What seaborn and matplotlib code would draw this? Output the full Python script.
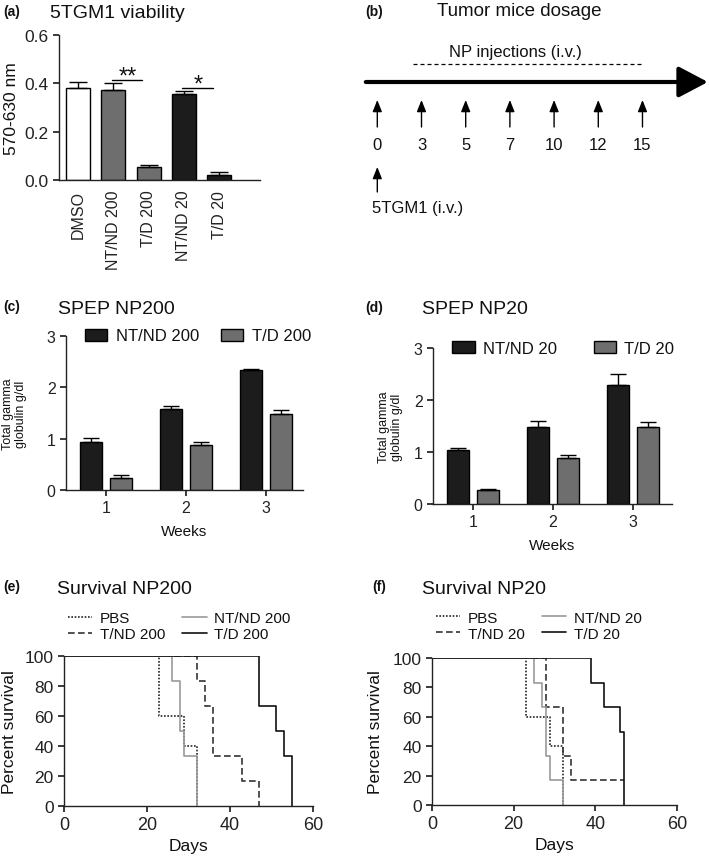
import numpy as np
import pandas as pd
import matplotlib
matplotlib.use("Agg")
import matplotlib.pyplot as plt
import seaborn as sns

# (a) 5TGM1 viability
via_labels = ["DMSO", "NT/ND 200", "T/D 200", "NT/ND 20", "T/D 20"]
via_mean = [0.379, 0.373, 0.052, 0.354, 0.022]
via_err = [0.025, 0.027, 0.009, 0.013, 0.011]
via_colors = ["white", "#6e6e6e", "#6e6e6e", "#1c1c1c", "#1c1c1c"]
via_sig = [(1, 2, "**", 0.414), (3, 4, "*", 0.38)]

# (b) dosing schedule (days)
dose_days = [0, 3, 5, 7, 10, 12, 15]

# (c), (d) SPEP, total gamma globulin g/dl
weeks = ["1", "2", "3"]
spep200_ntnd = [0.94, 1.57, 2.33]
spep200_ntnd_err = [0.07, 0.07, 0.03]
spep200_td = [0.24, 0.88, 1.48]
spep200_td_err = [0.06, 0.06, 0.08]
spep20_ntnd = [1.04, 1.49, 2.29]
spep20_ntnd_err = [0.03, 0.10, 0.21]
spep20_td = [0.26, 0.88, 1.49]
spep20_td_err = [0.03, 0.07, 0.08]

# (e), (f) survival steps
pbs200_day = [0, 23, 29, 32]
pbs200_pct = [100, 60, 40, 0]
ntnd200_day = [0, 26, 28, 29, 32]
ntnd200_pct = [100, 83.3, 50, 33.3, 0]
tnd200_day = [0, 32, 34, 36, 43, 47]
tnd200_pct = [100, 83.3, 66.7, 33.3, 16.7, 0]
td200_day = [0, 47, 51, 53, 55]
td200_pct = [100, 66.7, 50, 33.3, 0]

pbs20_day = [0, 23, 29, 32]
pbs20_pct = [100, 60, 40, 0]
ntnd20_day = [0, 25, 27, 28, 29, 32]
ntnd20_pct = [100, 83.3, 66.7, 33.3, 16.7, 0]
tnd20_day = [0, 28, 32, 34, 47]
tnd20_pct = [100, 66.7, 33.3, 16.7, 16.7]
td20_day = [0, 39, 42, 46, 47]
td20_pct = [100, 83.3, 66.7, 50, 0]

W, H = 709, 862
BLACK = "#1c1c1c"
GRAY = "#6e6e6e"

sns.set_theme(style="ticks")
plt.rcParams["font.family"] = ["Liberation Sans", "DejaVu Sans"]
plt.rcParams["axes.linewidth"] = 1.0
plt.rcParams["axes.edgecolor"] = "#222222"
plt.rcParams["xtick.color"] = "#222222"
plt.rcParams["ytick.color"] = "#222222"
plt.rcParams["text.color"] = "#111111"
plt.rcParams["axes.labelcolor"] = "#111111"

fig = plt.figure(figsize=(W / 100, H / 100), dpi=100)


def box(l, t, r, b):
    return [l / W, 1 - b / H, (r - l) / W, (b - t) / H]


def ftext(x, y, s, **kw):
    fig.text(x / W, 1 - y / H, s, va="center", ha="left", **kw)


def add_err(ax, bars, errs, capsize):
    xs = [p.get_x() + p.get_width() / 2 for p in bars]
    ys = [p.get_height() for p in bars]
    ax.errorbar(xs, ys, yerr=[np.zeros(len(errs)), errs], fmt="none",
                ecolor="black", elinewidth=1, capsize=capsize, capthick=1)


# ---------- (a)
ax = fig.add_axes(box(59, 36, 260, 181))
sns.barplot(x=via_labels, y=via_mean, hue=via_labels, palette=via_colors,
            legend=False, saturation=1, width=0.68, edgecolor="black",
            linewidth=1, errorbar=None, ax=ax)
add_err(ax, ax.patches, via_err, 6.5)
for i, j, star, y in via_sig:
    ax.plot([i - 0.04, j - 0.18], [y, y], color="black", lw=1)
    ax.text((i + j) / 2 - 0.1, y + 0.014, star, ha="center", va="center",
            fontsize=17)
ax.set_ylim(0, 0.6)
ax.set_xlim(-0.54, 5.16)
ax.set_yticks([0, 0.2, 0.4, 0.6])
ax.set_yticklabels(["0.0", "0.2", "0.4", "0.6"])
ax.tick_params(axis="y", labelsize=12.5, length=4)
ax.tick_params(axis="x", labelsize=11.5, length=0, pad=7, rotation=90)
ax.set_ylabel("570-630 nm", fontsize=12.5)
ax.yaxis.set_label_coords(-0.2, 0.5)
sns.despine(ax=ax)
ftext(3, 12, "(a)", fontsize=10, fontweight="bold")
ftext(50, 13, "5TGM1 viability", fontsize=14)

# ---------- (b)
ax = fig.add_axes(box(340, 0, 709, 240))
ax.set_xlim(-0.844, 7.505)
ax.set_ylim(240, 0)
ax.axis("off")
ax.annotate("", xy=(7.48, 83), xytext=(-0.26, 83),
            arrowprops=dict(arrowstyle="-|>,head_length=1.8,head_width=0.95",
                            lw=3, color="black", shrinkA=0, shrinkB=0,
                            mutation_scale=10))
ax.plot([0.8, len(dose_days) - 1], [65, 65], color="black", lw=0.9,
        ls=(0, (3.2, 2.4)))
ax.text(3.12, 53, "NP injections (i.v.)", ha="center", va="center", fontsize=12)
small = dict(arrowstyle="-|>,head_length=0.7,head_width=0.28", lw=1,
             color="black", shrinkA=0, shrinkB=0, mutation_scale=10)
for i, d in enumerate(dose_days):
    ax.annotate("", xy=(i, 101), xytext=(i, 128), arrowprops=small)
    ax.text(i, 145, str(d), ha="center", va="center", fontsize=12)
ax.annotate("", xy=(0, 168), xytext=(0, 193), arrowprops=small)
ax.text(-0.12, 208, "5TGM1 (i.v.)", ha="left", va="center", fontsize=12)
ftext(365, 12, "(b)", fontsize=10, fontweight="bold")
ftext(437, 12, "Tumor mice dosage", fontsize=13.5)


# ---------- (c), (d)
def spep(rect, ntnd, ntnd_err, td, td_err, dose, xmax, leg_x, colsp):
    ax = fig.add_axes(rect)
    names = [f"NT/ND {dose}", f"T/D {dose}"]
    df = pd.DataFrame({
        "week": weeks * 2,
        "value": ntnd + td,
        "group": [names[0]] * 3 + [names[1]] * 3,
    })
    sns.barplot(data=df, x="week", y="value", hue="group", hue_order=names,
                palette=[BLACK, GRAY], saturation=1, width=0.75, gap=0.27,
                edgecolor="black", linewidth=1, errorbar=None, ax=ax)
    for cont, errs in zip(ax.containers, [ntnd_err, td_err]):
        add_err(ax, cont, errs, 5.5)
    ax.set_ylim(0, 3)
    ax.set_xlim(-0.5, xmax)
    ax.set_yticks([0, 1, 2, 3])
    ax.tick_params(labelsize=11.5, length=4)
    ax.set_xlabel("Weeks", fontsize=11, labelpad=6)
    ax.set_ylabel("Total gamma\nglobulin g/dl", fontsize=9, linespacing=1.1)
    sns.despine(ax=ax)
    sns.move_legend(ax, "center left", bbox_to_anchor=(leg_x, 1.0), ncol=2,
                    frameon=False, title="", fontsize=12, handlelength=1.35,
                    handleheight=0.7, handletextpad=0.5, columnspacing=colsp,
                    borderpad=0, borderaxespad=0)
    return ax


ax = spep(box(66, 337, 303, 491), spep200_ntnd, spep200_ntnd_err,
          spep200_td, spep200_td_err, 200, 2.46, 0.08, 1.3)
ax.yaxis.set_label_coords(-0.165, 0.5)
ftext(3, 307, "(c)", fontsize=10, fontweight="bold")
ftext(58, 310, "SPEP NP200", fontsize=14)

ax = spep(box(433, 349, 672, 505), spep20_ntnd, spep20_ntnd_err,
          spep20_td, spep20_td_err, 20, 2.49, 0.08, 2.2)
ax.yaxis.set_label_coords(-0.125, 0.5)
ftext(365, 308, "(d)", fontsize=10, fontweight="bold")
ftext(422, 310, "SPEP NP20", fontsize=14)


# ---------- (e), (f)
def survival(rect, curves, dose, leg_y):
    ax = fig.add_axes(rect)
    names = ["PBS", f"T/ND {dose}", f"NT/ND {dose}", f"T/D {dose}"]
    rows = []
    for name, (days, pct) in zip(names, curves):
        for d, p in zip(days, pct):
            rows.append((name, d, p))
    df = pd.DataFrame(rows, columns=["group", "day", "pct"])
    sns.lineplot(data=df, x="day", y="pct", hue="group", style="group",
                 hue_order=names, style_order=names,
                 palette=["#222222", "#333333", "#9a9a9a", "#111111"],
                 dashes=[(1, 1), (4, 2), "", ""],
                 estimator=None, sort=False, drawstyle="steps-post",
                 linewidth=1.2, ax=ax)
    ax.set_xlim(0, 60)
    ax.set_ylim(0, 100)
    ax.set_xticks([0, 20, 40, 60])
    ax.set_yticks([0, 20, 40, 60, 80, 100])
    ax.tick_params(axis="x", labelsize=13, length=4)
    ax.tick_params(axis="y", labelsize=12.5, length=4)
    ax.set_xlabel("Days", fontsize=12.5, labelpad=3)
    ax.set_ylabel("Percent survival", fontsize=12.5)
    sns.despine(ax=ax)
    sns.move_legend(ax, "center left", bbox_to_anchor=(0.016, leg_y), ncol=2,
                    frameon=False, title="", fontsize=11, handlelength=1.6,
                    handletextpad=0.5, columnspacing=1.1, labelspacing=0.15,
                    borderpad=0, borderaxespad=0)
    return ax


ax = survival(box(64, 657, 313, 807),
              [(pbs200_day, pbs200_pct), (tnd200_day, tnd200_pct),
               (ntnd200_day, ntnd200_pct), (td200_day, td200_pct)],
              200, 1.2)
ax.yaxis.set_label_coords(-0.19, 0.5)
ftext(3, 587, "(e)", fontsize=10, fontweight="bold")
ftext(57, 590, "Survival NP200", fontsize=14)

ax = survival(box(432, 659, 677, 806),
              [(pbs20_day, pbs20_pct), (tnd20_day, tnd20_pct),
               (ntnd20_day, ntnd20_pct), (td20_day, td20_pct)],
              20, 1.22)
ax.yaxis.set_label_coords(-0.2, 0.5)
ftext(372, 587, "(f)", fontsize=10, fontweight="bold")
ftext(422, 589, "Survival NP20", fontsize=14)

fig.savefig("out.png", dpi=100)
